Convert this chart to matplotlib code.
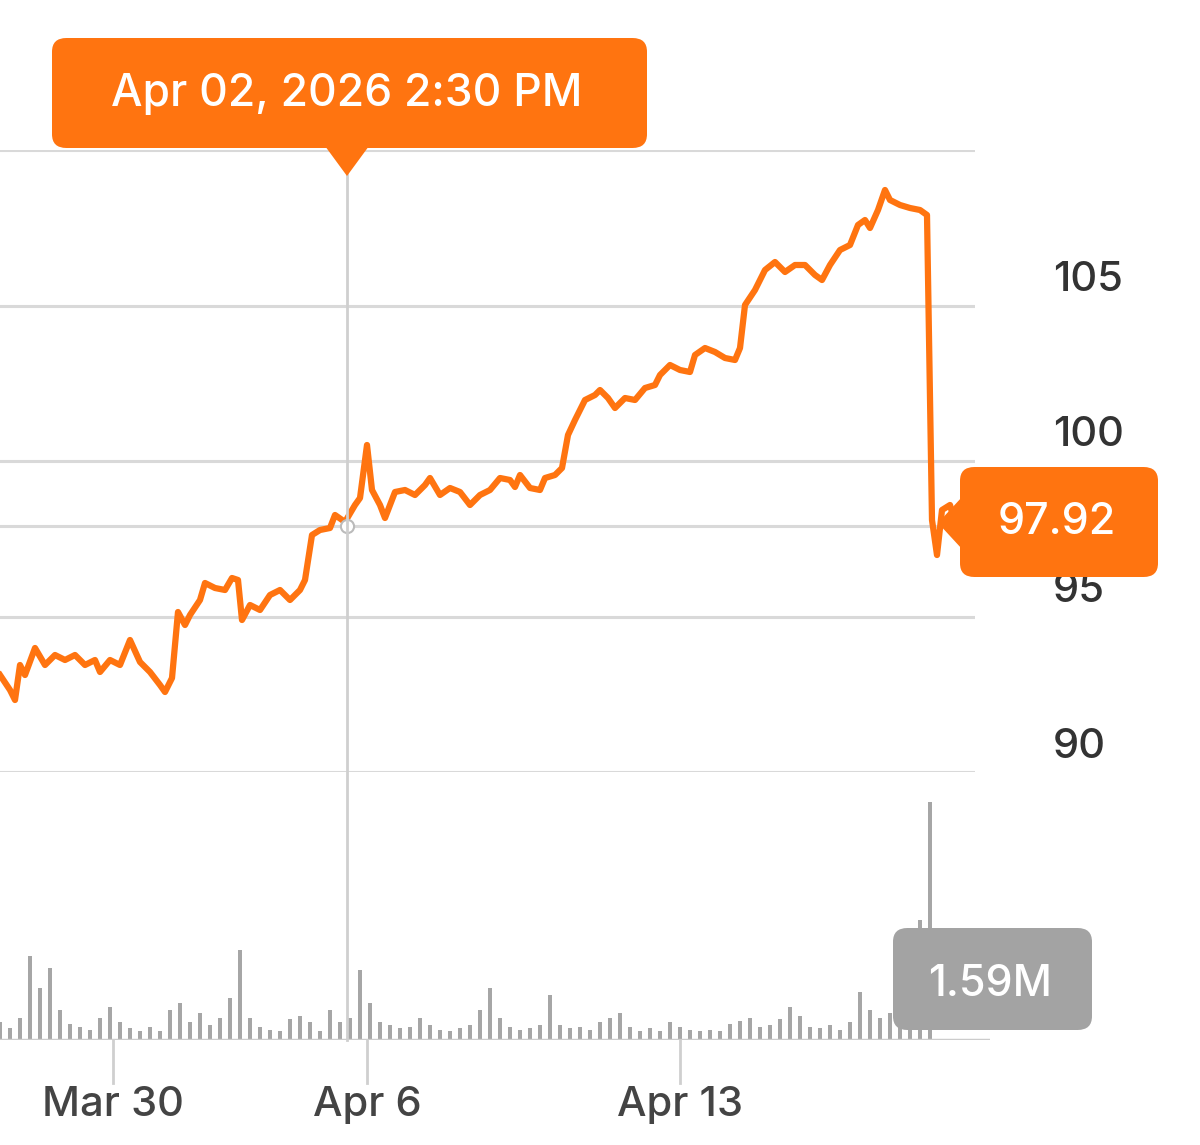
import matplotlib
matplotlib.use("Agg")
import matplotlib.pyplot as plt
import numpy as np
from matplotlib.lines import Line2D
from matplotlib.patches import FancyBboxPatch, Polygon

plt.rcParams['font.family'] = ['Inter', 'DejaVu Sans']
plt.rcParams['font.weight'] = 'medium'

PX_PER_SESSION = 63.0
price_pos = [0,10,15,20,25,35,45,55,65,75,85,95,100,110,120,130,140,150,160,165,172,178,185,190,200,205,215,225,232,238,242,250,260,270,280,290,300,305,312,320,330,335,345,355,360,367,372,380,385,395,405,415,425,430,440,450,460,470,480,490,500,510,515,520,530,540,545,555,562,568,575,585,595,600,608,615,625,635,645,655,660,670,680,690,695,705,715,725,735,740,745,755,765,775,785,795,805,815,822,830,840,850,858,865,870,878,885,890,900,910,920,927,932,937,942,950,955]
price_y = [675,690,700,665,675,648,665,655,660,655,665,660,672,660,665,640,662,672,685,692,678,612,625,615,600,583,588,590,578,580,620,605,610,595,590,600,590,580,535,530,528,515,522,505,498,445,490,505,518,492,490,495,485,478,495,488,492,505,495,490,478,480,487,475,488,490,478,475,468,435,420,400,395,390,398,408,398,400,388,385,375,365,370,372,355,348,352,358,360,348,305,290,270,262,272,265,265,275,280,265,250,245,225,220,228,210,190,200,205,208,210,215,520,555,510,505,523]
sessions = np.array(price_pos) / PX_PER_SESSION
prices = 110 - (np.array(price_y) - 150) / 31.1

volumes_k = [120,80,150,560,350,480,200,110,90,70,150,220,120,80,60,90,60,200,250,120,
             180,100,150,280,600,150,90,70,60,140,160,120,60,200,120,150,470,250,120,100,
             80,90,150,100,70,60,80,100,200,350,150,90,70,80,100,300,100,80,90,70,
             120,150,180,90,60,80,60,120,90,70,60,70,60,110,130,150,90,100,140,220,
             160,90,80,100,70,120,320,200,150,180,250,130,800,1590]
vol_pos = np.arange(len(volumes_k)) * 10 / PX_PER_SESSION

tick_pos = [113/PX_PER_SESSION, 367/PX_PER_SESSION, 680/PX_PER_SESSION]
tick_labels = ["Mar 30", "Apr 6", "Apr 13"]
yticks = [90, 95, 100, 105]
last_price = 97.92
hover_price = 97.92
hover_pos = 347/PX_PER_SESSION

ORANGE = "#FF7410"
GRID = "#D9D9D9"
W, H = 1200, 1145
fig = plt.figure(figsize=(12, 11.45), dpi=100)
fig.patch.set_facecolor("white")

def fy(p): return 1 - p / H

ax = fig.add_axes([0, fy(772), 975/W, (772-150)/H])
ax.set_xlim(0, 975/PX_PER_SESSION)
ax.set_ylim(90, 110)
for s in ax.spines.values(): s.set_visible(False)
ax.set_xticks([]); ax.set_yticks([])
for g in [90, 95, 100, 105, 110]:
    ax.axhline(g, color=GRID, lw=2.2, zorder=1)
ax.axhline(hover_price, color=GRID, lw=2.2, zorder=1)
ax.plot(sessions, prices, color=ORANGE, lw=4.5, solid_joinstyle="round", zorder=3, clip_on=False)
ax.scatter([hover_pos], [hover_price], s=90, color="white", edgecolor="#BBBBBB", lw=1.5, zorder=4)
for t in yticks:
    ax.text(1053/W, fy(280 + (105 - t)*31.1), str(t), transform=fig.transFigure,
            fontsize=30, color="#333333", ha="left", va="center")

vax = fig.add_axes([0, fy(1040), 990/W, 260/H])
vax.set_xlim(0, 990/PX_PER_SESSION)
vax.set_ylim(0, 1737)
for s in vax.spines.values(): s.set_visible(False)
vax.set_xticks([]); vax.set_yticks([])
vax.bar(vol_pos, volumes_k, width=4.5/PX_PER_SESSION, color="#A6A6A6", align="center", zorder=2)
vax.axhline(0, color="#CCCCCC", lw=2.5, zorder=3)

fig.add_artist(Line2D([347/W, 347/W], [fy(150), fy(1040)], color="#CFCFCF", lw=2, zorder=2))
for p, lab in zip(tick_pos, tick_labels):
    xf = p * PX_PER_SESSION / W
    fig.add_artist(Line2D([xf, xf], [fy(1040), fy(1083)], color="#CFCFCF", lw=2))
    fig.text(xf, fy(1105), lab, fontsize=30, color="#444444", ha="center", va="center")

fig.add_artist(FancyBboxPatch((52/W, fy(148)), (647-52)/W, 110/H,
               boxstyle="round,pad=0,rounding_size=0.012", fc=ORANGE, ec="none",
               transform=fig.transFigure, zorder=5))
fig.add_artist(Polygon([[325/W, fy(146)], [369/W, fy(146)], [347/W, fy(176)]],
               closed=True, fc=ORANGE, ec="none", transform=fig.transFigure, zorder=5))
fig.text(347/W, fy(94), "Apr 02, 2026 2:30 PM", fontsize=32, color="white", ha="center", va="center", zorder=6)

fig.add_artist(FancyBboxPatch((960/W, fy(577)), 198/W, 110/H,
               boxstyle="round,pad=0,rounding_size=0.012", fc=ORANGE, ec="none",
               transform=fig.transFigure, zorder=5))
fig.add_artist(Polygon([[962/W, fy(497)], [962/W, fy(549)], [938/W, fy(523)]],
               closed=True, fc=ORANGE, ec="none", transform=fig.transFigure, zorder=5))
fig.text(1057/W, fy(522), f"{last_price:.2f}", fontsize=31, color="white", ha="center", va="center", zorder=6)

fig.add_artist(FancyBboxPatch((893/W, fy(1030)), 199/W, 102/H,
               boxstyle="round,pad=0,rounding_size=0.012", fc="#A3A3A3", ec="none",
               transform=fig.transFigure, zorder=5))
fig.text(990/W, fy(984), "1.59M", fontsize=31, color="white", ha="center", va="center", zorder=6)

fig.savefig("out.png", dpi=100, facecolor="white")
